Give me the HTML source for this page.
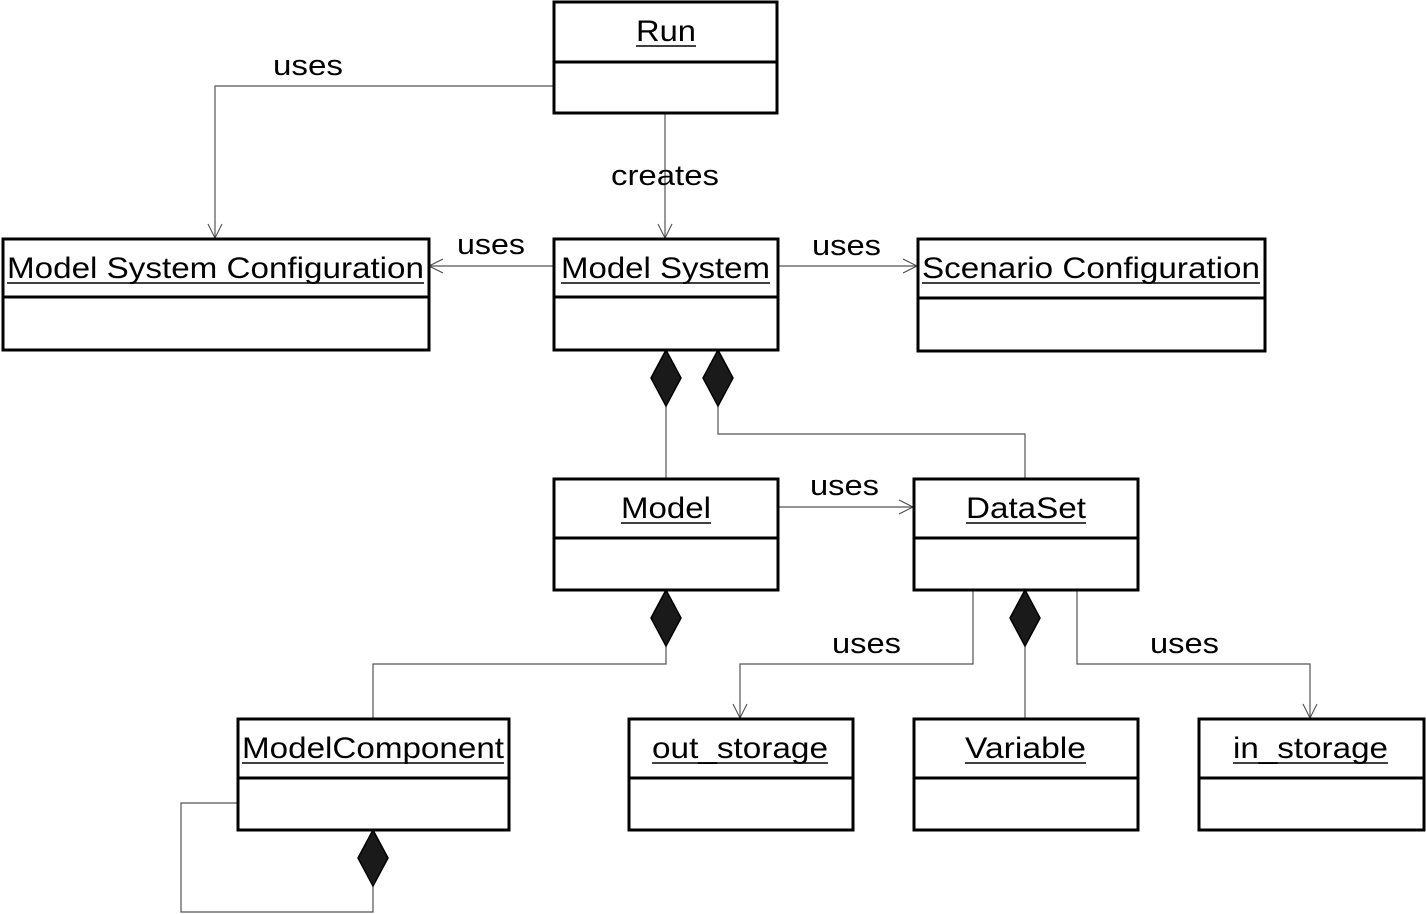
<!DOCTYPE html>
<html><head><meta charset="utf-8"><style>
html,body{margin:0;padding:0;background:#fff;}
svg{display:block;}
text{font-family:"Liberation Sans",Arial,sans-serif;fill:#000;}
</style></head><body>
<svg width="1426" height="914" viewBox="0 0 1426 914" xmlns="http://www.w3.org/2000/svg">
<defs>
<marker id="a" markerWidth="20" markerHeight="20" refX="15" refY="8" orient="auto" markerUnits="userSpaceOnUse">
<path d="M1,1 L15,8 L1,15" fill="none" stroke="#444" stroke-width="1"/>
</marker>
</defs>
<g fill="none" stroke="#555" stroke-width="1.2">
<polyline points="553,86 215,86 215,238" marker-end="url(#a)"/>
<line x1="665" y1="113" x2="665" y2="238" marker-end="url(#a)"/>
<line x1="553" y1="266" x2="429" y2="266" marker-end="url(#a)"/>
<line x1="778" y1="266" x2="917" y2="266" marker-end="url(#a)"/>
<line x1="778" y1="507" x2="913" y2="507" marker-end="url(#a)"/>
<line x1="666" y1="406" x2="666" y2="478"/>
<polyline points="718,406 718,434 1025,434 1025,478"/>
<polyline points="666,646 666,664 373,664 373,718"/>
<polyline points="237,803 181,803 181,912 373,912 373,886"/>
<polyline points="973,590 973,664 740,664 740,718" marker-end="url(#a)"/>
<polyline points="1077,590 1077,664 1310,664 1310,718" marker-end="url(#a)"/>
<line x1="1025" y1="646" x2="1025" y2="718"/>
</g>
<g fill="#1a1a1a" stroke="#000" stroke-width="1.5">
<path d="M666,350 L681,378 L666,406 L651,378 Z"/>
<path d="M718,350 L733,378 L718,406 L703,378 Z"/>
<path d="M666,590 L681,618 L666,646 L651,618 Z"/>
<path d="M1025,590 L1040,618 L1025,646 L1010,618 Z"/>
<path d="M373,830 L388,858 L373,886 L358,858 Z"/>
</g>
<g fill="#fff" stroke="#000" stroke-width="3">
<rect x="554" y="2" width="223" height="111"/><line x1="554" y1="62" x2="777" y2="62"/>
<rect x="3" y="239" width="426" height="111"/><line x1="3" y1="297" x2="429" y2="297"/>
<rect x="554" y="239" width="224" height="111"/><line x1="554" y1="297" x2="778" y2="297"/>
<rect x="918" y="239" width="347" height="112"/><line x1="918" y1="298" x2="1265" y2="298"/>
<rect x="554" y="479" width="224" height="111"/><line x1="554" y1="538" x2="778" y2="538"/>
<rect x="914" y="479" width="224" height="111"/><line x1="914" y1="538" x2="1138" y2="538"/>
<rect x="238" y="719" width="271" height="111"/><line x1="238" y1="778" x2="509" y2="778"/>
<rect x="629" y="719" width="224" height="111"/><line x1="629" y1="778" x2="853" y2="778"/>
<rect x="914" y="719" width="224" height="111"/><line x1="914" y1="778" x2="1138" y2="778"/>
<rect x="1199" y="719" width="225" height="111"/><line x1="1199" y1="778" x2="1424" y2="778"/>
</g>
<g font-size="30">
<text x="636" y="41" textLength="60" lengthAdjust="spacingAndGlyphs">Run</text>
<text x="7" y="278" textLength="417" lengthAdjust="spacingAndGlyphs">Model System Configuration</text>
<text x="561" y="278" textLength="209" lengthAdjust="spacingAndGlyphs">Model System</text>
<text x="922" y="278" textLength="338" lengthAdjust="spacingAndGlyphs">Scenario Configuration</text>
<text x="621" y="518" textLength="90" lengthAdjust="spacingAndGlyphs">Model</text>
<text x="966" y="518" textLength="120" lengthAdjust="spacingAndGlyphs">DataSet</text>
<text x="242" y="758" textLength="262" lengthAdjust="spacingAndGlyphs">ModelComponent</text>
<text x="652" y="758" textLength="176" lengthAdjust="spacingAndGlyphs">out_storage</text>
<text x="965" y="758" textLength="121" lengthAdjust="spacingAndGlyphs">Variable</text>
<text x="1233" y="758" textLength="155" lengthAdjust="spacingAndGlyphs">in_storage</text>
</g>
<g stroke="#000" stroke-width="1.5">
<line x1="636" y1="46" x2="696" y2="46"/>
<line x1="7" y1="283" x2="424" y2="283"/>
<line x1="561" y1="283" x2="770" y2="283"/>
<line x1="922" y1="283" x2="1260" y2="283"/>
<line x1="621" y1="523" x2="711" y2="523"/>
<line x1="966" y1="523" x2="1086" y2="523"/>
<line x1="242" y1="763" x2="504" y2="763"/>
<line x1="652" y1="763" x2="828" y2="763"/>
<line x1="965" y1="763" x2="1086" y2="763"/>
<line x1="1233" y1="763" x2="1388" y2="763"/>
</g>
<g font-size="29">
<text x="273" y="75" textLength="70" lengthAdjust="spacingAndGlyphs">uses</text>
<text x="611" y="185" textLength="108" lengthAdjust="spacingAndGlyphs">creates</text>
<text x="457" y="254" textLength="68" lengthAdjust="spacingAndGlyphs">uses</text>
<text x="812" y="255" textLength="69" lengthAdjust="spacingAndGlyphs">uses</text>
<text x="810" y="495" textLength="69" lengthAdjust="spacingAndGlyphs">uses</text>
<text x="832" y="653" textLength="69" lengthAdjust="spacingAndGlyphs">uses</text>
<text x="1150" y="653" textLength="69" lengthAdjust="spacingAndGlyphs">uses</text>
</g>
</svg>
</body></html>
